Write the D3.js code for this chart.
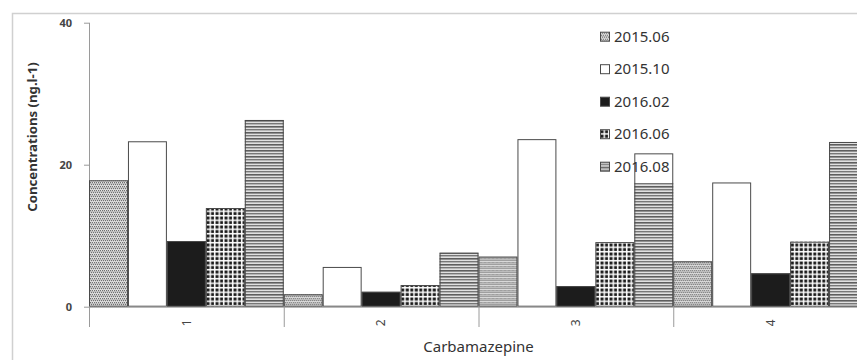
<!DOCTYPE html>
<html>
<head>
<meta charset="utf-8">
<script src="https://cdn.jsdelivr.net/npm/d3@7"></script>
<style>
  html, body { margin: 0; padding: 0; background: #fff; }
  svg { display: block; }
  text { font-family: "Noto Sans", "Open Sans", sans-serif; }
</style>
</head>
<body>
<svg id="chart" width="857" height="360"></svg>
<script>
// Sampling campaigns and sites
const categories = ["1", "2", "3", "4"];
const series = ["2015.06", "2015.10", "2016.02", "2016.06", "2016.08"];
// Carbamazepine concentrations (ng.l-1) per campaign, one value per site
const v201506 = [17.8, 1.75, 7.05, 6.4];
const v201510 = [23.3, 5.6, 23.6, 17.5];
const v201602 = [9.25, 2.1, 2.9, 4.7];
const v201606 = [13.9, 3.05, 9.1, 9.15];
const v201608 = [26.3, 7.6, 21.6, 23.2];
const yTicks = [0, 20, 40];
const xTitle = "Carbamazepine";
const yTitle = "Concentrations (ng.l-1)";

const values = [v201506, v201510, v201602, v201606, v201608];
const fills = ["url(#pDots)", "#ffffff", "#1c1c1c", "url(#pGrid)", "url(#pLines)"];

const svg = d3.select("#chart");
const defs = svg.append("defs");

// light dotted texture
const pDots = defs.append("pattern").attr("id", "pDots").attr("patternUnits", "userSpaceOnUse")
  .attr("width", 4).attr("height", 4);
pDots.append("rect").attr("width", 4).attr("height", 4).attr("fill", "#e6e6e6");
[[0,0],[2,0],[1,2],[3,2]].forEach(([x,y]) =>
  pDots.append("rect").attr("x", x).attr("y", y).attr("width", 1.2).attr("height", 1.2).attr("fill", "#707070"));
pDots.append("rect").attr("x", 0).attr("y", 3.2).attr("width", 4).attr("height", 0.6).attr("fill", "#aaaaaa");

// dark grid texture
const pGrid = defs.append("pattern").attr("id", "pGrid").attr("patternUnits", "userSpaceOnUse")
  .attr("width", 4.5).attr("height", 4.5);
pGrid.append("rect").attr("width", 4.5).attr("height", 4.5).attr("fill", "#ffffff");
pGrid.append("rect").attr("x", 0.5).attr("y", 0.5).attr("width", 3).attr("height", 3).attr("fill", "#1a1a1a");

// horizontal line texture
const pLines = defs.append("pattern").attr("id", "pLines").attr("patternUnits", "userSpaceOnUse")
  .attr("width", 6).attr("height", 6);
pLines.append("rect").attr("width", 6).attr("height", 6).attr("fill", "#e0e0e0");
pLines.append("rect").attr("y", 0).attr("width", 6).attr("height", 1.6).attr("fill", "#5e5e5e");
pLines.append("rect").attr("y", 3).attr("width", 6).attr("height", 1.4).attr("fill", "#777777");

// outer chart frame
svg.append("rect").attr("x", 12.5).attr("y", 13.5).attr("width", 900).attr("height", 400)
  .attr("fill", "none").attr("stroke", "#d0d0d0").attr("stroke-width", 1.5);

const plot = { left: 89, right: 868, top: 22.7, bottom: 306.7 };

const x = d3.scaleBand().domain(categories).range([plot.left, plot.right]).padding(0);
const xs = d3.scaleBand().domain(series).range([0, x.bandwidth()]).padding(0);
const y = d3.scaleLinear().domain([0, 40]).range([plot.bottom, plot.top]);

// y axis
const yAxis = svg.append("g").attr("transform", `translate(${plot.left},0)`)
  .call(d3.axisLeft(y).tickValues(yTicks).tickSize(5).tickPadding(12));
yAxis.select(".domain").remove();
yAxis.selectAll(".tick line").attr("stroke", "#9a9a9a");
yAxis.selectAll(".tick text").attr("fill", "#444").attr("font-size", 11).attr("font-weight", "bold");
svg.append("line").attr("x1", plot.left + 0.5).attr("x2", plot.left + 0.5)
  .attr("y1", plot.top).attr("y2", 327).attr("stroke", "#9a9a9a");

const barData = (c, i) => series.map((s, k) => ({ s, k, v: values[k][i] }));

// bar fills
svg.append("g").selectAll("g").data(categories).join("g")
  .attr("transform", d => `translate(${x(d)},0)`)
  .selectAll("rect").data(barData).join("rect")
  .attr("x", d => xs(d.s)).attr("width", xs.bandwidth())
  .attr("y", d => y(d.v)).attr("height", d => y(0) - y(d.v))
  .attr("fill", d => fills[d.k]);

// legend background sits over the plot area
svg.append("rect").attr("x", 595).attr("y", 22).attr("width", 85).attr("height", 161).attr("fill", "#ffffff");

// bar outlines
svg.append("g").selectAll("g").data(categories).join("g")
  .attr("transform", d => `translate(${x(d)},0)`)
  .selectAll("rect").data(barData).join("rect")
  .attr("x", d => xs(d.s) + 0.5).attr("width", xs.bandwidth() - 1)
  .attr("y", d => y(d.v) + 0.5).attr("height", d => y(0) - y(d.v) - 1)
  .attr("fill", "none").attr("stroke", "#4a4a4a").attr("stroke-width", 1);

// x axis with category dividers
svg.append("line").attr("x1", plot.left).attr("x2", 857).attr("y1", plot.bottom + 0.5).attr("y2", plot.bottom + 0.5)
  .attr("stroke", "#9a9a9a");
svg.append("g").selectAll("line").data(categories.slice(1)).join("line")
  .attr("x1", d => x(d) + 0.5).attr("x2", d => x(d) + 0.5)
  .attr("y1", plot.bottom).attr("y2", 327).attr("stroke", "#9a9a9a");
svg.append("g").selectAll("text").data(categories).join("text")
  .attr("transform", d => `translate(${x(d) + x.bandwidth() / 2},${plot.bottom + 16}) rotate(-90)`)
  .attr("text-anchor", "middle").attr("dy", "0.35em")
  .attr("font-size", 12).attr("fill", "#444").text(d => d);

// axis titles
svg.append("text").attr("x", (plot.left + plot.right) / 2).attr("y", 352)
  .attr("text-anchor", "middle").attr("font-size", 15).attr("fill", "#333").text(xTitle);
svg.append("text").attr("transform", "translate(32,137) rotate(-90)")
  .attr("text-anchor", "middle").attr("dy", "0.35em")
  .attr("font-size", 13.2).attr("font-weight", "bold").attr("fill", "#333").text(yTitle);

// legend
const legend = svg.append("g").selectAll("g").data(series).join("g")
  .attr("transform", (d, i) => `translate(600,${36.7 + i * 32.5})`);
legend.append("rect").attr("x", 0.5).attr("y", -4.5).attr("width", 9).attr("height", 9)
  .attr("fill", (d, i) => fills[i]).attr("stroke", "#4a4a4a");
legend.append("text").attr("x", 14).attr("dy", "0.35em").attr("font-size", 15)
  .attr("fill", "#333").text(d => d);
</script>
</body>
</html>
